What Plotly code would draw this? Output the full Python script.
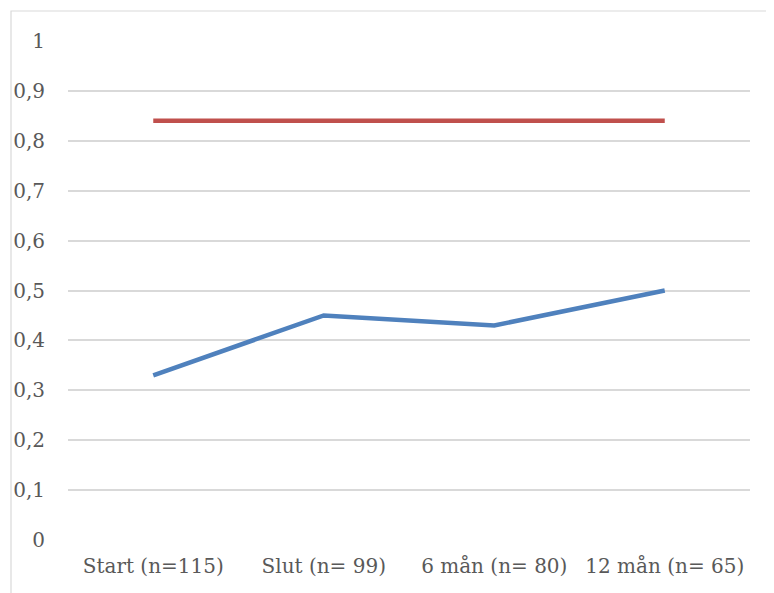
import plotly.graph_objects as go

categories = ["Start (n=115)", "Slut (n= 99)", "6 mån (n= 80)", "12 mån (n= 65)"]
blue_values = [0.33, 0.45, 0.43, 0.50]
red_values = [0.84, 0.84, 0.84, 0.84]
y_ticks = [0, 0.1, 0.2, 0.3, 0.4, 0.5, 0.6, 0.7, 0.8, 0.9, 1]
y_tick_labels = ["0", "0,1", "0,2", "0,3", "0,4", "0,5", "0,6", "0,7", "0,8", "0,9", "1"]

OFF = 8  # page body margin
W, H = 774 - OFF, 593 - OFF
L, R, T, B = 68 - OFF, 24, 41 - OFF, 53
pw, ph = W - L - R, H - T - B

fig = go.Figure()
fig.add_trace(go.Scatter(x=categories, y=red_values, mode="lines",
                         line=dict(color="#C0504D", width=4.5), showlegend=False))
fig.add_trace(go.Scatter(x=categories, y=blue_values, mode="lines",
                         line=dict(color="#4F81BD", width=4.5), showlegend=False))

font = dict(family="DejaVu Serif, serif", size=20, color="#595959")
fig.update_layout(
    width=W, height=H,
    margin=dict(l=L, r=R, t=T, b=B, autoexpand=False),
    paper_bgcolor="white", plot_bgcolor="white",
    font=font,
    xaxis=dict(type="category", range=[-0.5, 3.5], showgrid=False, zeroline=False,
               showline=False, ticks="", ticklabelstandoff=12, tickfont=font),
    yaxis=dict(range=[0, 1], tickvals=y_ticks, ticktext=y_tick_labels,
               showgrid=True, gridcolor="#D9D9D9", gridwidth=1.5, zeroline=False,
               showline=False, ticks="", ticklabelstandoff=22, tickfont=font),
    shapes=[dict(type="rect", xref="paper", yref="paper",
                 x0=(3 - L) / pw, x1=(W + 10 - L) / pw,
                 y0=-(H + 10 - T - ph) / ph, y1=1 + (T - 3) / ph,
                 line=dict(color="#D9D9D9", width=1.2), layer="below")],
)
fig.write_html("out.html")
